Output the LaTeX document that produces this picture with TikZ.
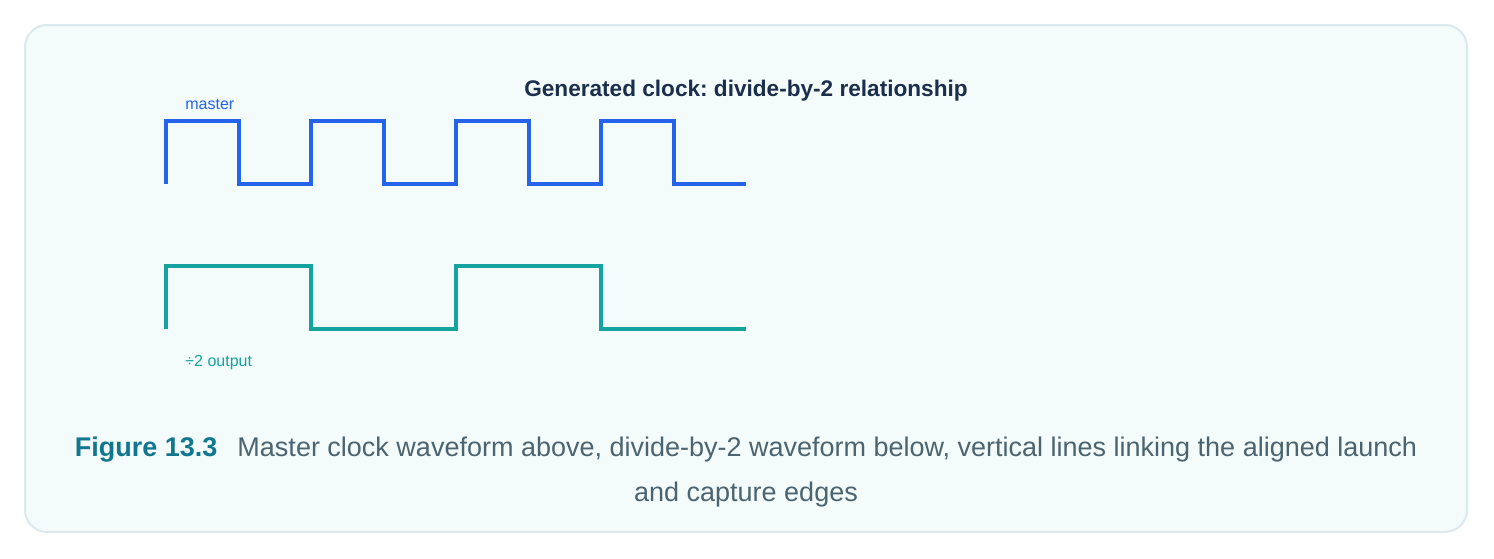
\documentclass[tikz,border=0pt]{standalone}
\usepackage{fontspec}
\setmainfont{Liberation Sans}
\usepackage{tikz}
\frenchspacing
\definecolor{masterblue}{HTML}{2563EB}
\definecolor{divteal}{HTML}{14A39E}
\definecolor{titlenavy}{HTML}{1B2F4D}
\definecolor{figteal}{HTML}{11778F}
\definecolor{capgray}{HTML}{4B6470}
\definecolor{panelfill}{HTML}{F3FBFB}
\definecolor{panelline}{HTML}{DBE9EE}
\tikzset{
  wave/.style={line width=2pt, miter limit=10, line join=miter, line cap=butt},
  lbl/.style={inner sep=0pt, anchor=base west, font=\fontsize{8}{9.6}\selectfont},
}

\begin{document}
\begin{tikzpicture}[x=0.5pt, y=-0.5pt]
			\useasboundingbox (0,0) rectangle (1494,558);
			\draw[panelline, fill=panelfill, line width=1pt, rounded corners=11pt] (25,25) rectangle (1467,532);
			\node[inner sep=0pt, anchor=base, text=titlenavy, font=\fontsize{11.3}{13}\selectfont\bfseries] (title) at (746,96.7) {Generated clock: divide-by-2 relationship};
			% master clock
			\draw[wave, masterblue] (166,184) \foreach \i in {0,...,3}
				{-- ++(0,-63) -- ++(72.5,0) -- ++(0,63) -- ++(72.5,0)};
			\node[lbl, text=masterblue] (master) at (185,109.3) {master};
			% divide-by-2 output
			\draw[wave, divteal] (166,329) \foreach \i in {0,...,1}
				{-- ++(0,-63) -- ++(145,0) -- ++(0,63) -- ++(145,0)};
			\node[lbl, text=divteal] (divout) at (185,366) {÷2 output};
			\node[inner sep=0pt, anchor=base, text=capgray, font=\fontsize{13.5}{16}\selectfont] (cap1) at (746,456.7)
				{\textcolor{figteal}{\bfseries Figure 13.3}\hspace{10pt}Master clock waveform above, divide-by-2 waveform below, vertical lines linking the aligned launch};
			\node[inner sep=0pt, anchor=base, text=capgray, font=\fontsize{13.5}{16}\selectfont] (cap2) at (746,501.7) {and capture edges};
\end{tikzpicture}
\end{document}
